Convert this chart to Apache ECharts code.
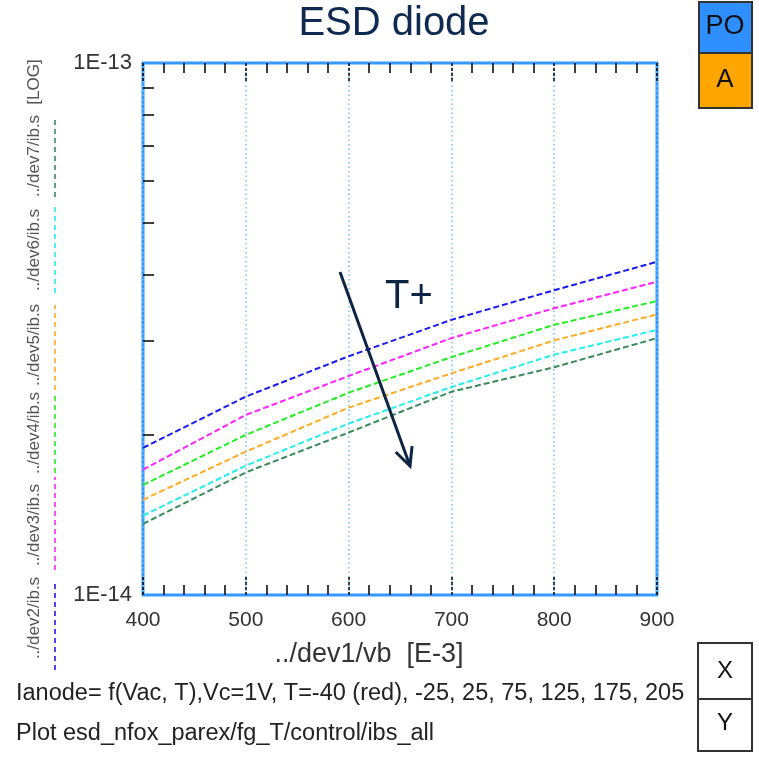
<!DOCTYPE html>
<html><head><meta charset="utf-8">
<script src="https://cdn.jsdelivr.net/npm/echarts@6/dist/echarts.min.js"></script>
<style>html,body{margin:0;padding:0;background:#fff}#c{width:759px;height:757px}</style>
</head><body><div id="c"></div>
<script>
const vb = [400, 500, 600, 700, 800, 900];
const dev2 = [1.89e-14, 2.36e-14, 2.81e-14, 3.29e-14, 3.74e-14, 4.23e-14];
const dev3 = [1.72e-14, 2.18e-14, 2.58e-14, 3.04e-14, 3.46e-14, 3.88e-14];
const dev4 = [1.61e-14, 2.00e-14, 2.40e-14, 2.80e-14, 3.22e-14, 3.57e-14];
const dev5 = [1.51e-14, 1.86e-14, 2.25e-14, 2.61e-14, 3.01e-14, 3.37e-14];
const dev6 = [1.41e-14, 1.75e-14, 2.10e-14, 2.46e-14, 2.83e-14, 3.15e-14];
const dev7 = [1.36e-14, 1.70e-14, 2.02e-14, 2.41e-14, 2.68e-14, 3.04e-14];
const seriesNames = ['../dev2/ib.s','../dev3/ib.s','../dev4/ib.s','../dev5/ib.s','../dev6/ib.s','../dev7/ib.s'];
const seriesData = [dev2, dev3, dev4, dev5, dev6, dev7];
const colors = ['#1a1aee','#ff22ff','#22ee22','#ffaa22','#22eeee','#3a8a5a'];
const yMinorTicks = [2e-14,3e-14,4e-14,5e-14,6e-14,7e-14,8e-14,9e-14];

const chart = echarts.init(document.getElementById('c'));
const navy = '#0e2444';
const FF = '"Liberation Sans", Arial, sans-serif';
const legendY = [[670,580],[570,477],[473,393],[390,305],[293,207],[197,118]];
const legendTextY = [618,525,433,345,250,156];
const graphics = [];
seriesNames.forEach((n,i)=>{
  graphics.push({type:'line', shape:{x1:55,y1:legendY[i][0],x2:55,y2:legendY[i][1]},
    style:{stroke:colors[i], lineWidth:1.6, lineDash:[5,4]}});
  graphics.push({type:'text', x:34, y:legendTextY[i], rotation:Math.PI/2,
    style:{text:n, fill:'#555', font:'17px ' + FF, align:'center', verticalAlign:'middle'}});
});
graphics.push({type:'text', x:34, y:82, rotation:Math.PI/2,
  style:{text:'[LOG]', fill:'#555', font:'17px ' + FF, align:'center', verticalAlign:'middle'}});
graphics.push({type:'text', x:394, y:24, style:{text:'ESD diode', fill:'#0e2a50', font:'40px ' + FF, align:'center', verticalAlign:'middle'}});
graphics.push({type:'text', x:369, y:655, style:{text:'../dev1/vb  [E-3]', fill:'#333', font:'27px ' + FF, align:'center', verticalAlign:'middle'}});
graphics.push({type:'text', x:16, y:694, style:{text:'Ianode= f(Vac, T),Vc=1V, T=-40 (red), -25, 25, 75, 125, 175, 205', fill:'#222', font:'23.5px ' + FF, align:'left', verticalAlign:'middle'}});
graphics.push({type:'text', x:16, y:734, style:{text:'Plot esd_nfox_parex/fg_T/control/ibs_all', fill:'#222', font:'23.5px ' + FF, align:'left', verticalAlign:'middle'}});
graphics.push({type:'rect', shape:{x:699,y:2,width:53,height:51}, style:{fill:'#2f8fff', stroke:'#333', lineWidth:2}});
graphics.push({type:'rect', shape:{x:699,y:53,width:53,height:55}, style:{fill:'#ffa500', stroke:'#333', lineWidth:2}});
graphics.push({type:'text', x:725, y:27, style:{text:'PO', fill:'#111', font:'27px ' + FF, align:'center', verticalAlign:'middle'}});
graphics.push({type:'text', x:725, y:80, style:{text:'A', fill:'#111', font:'26px ' + FF, align:'center', verticalAlign:'middle'}});
graphics.push({type:'rect', shape:{x:698,y:643,width:54,height:56}, style:{fill:'#fff', stroke:'#333', lineWidth:2}});
graphics.push({type:'rect', shape:{x:698,y:699,width:54,height:52}, style:{fill:'#fff', stroke:'#333', lineWidth:2}});
graphics.push({type:'text', x:725, y:671, style:{text:'X', fill:'#111', font:'24px ' + FF, align:'center', verticalAlign:'middle'}});
graphics.push({type:'text', x:725, y:723, style:{text:'Y', fill:'#111', font:'24px ' + FF, align:'center', verticalAlign:'middle'}});
const ax1=340, ay1=272, ax2=410, ay2=466;
const ang = Math.atan2(ay2-ay1, ax2-ax1);
const wl = 20, wa = 0.45;
graphics.push({type:'line', shape:{x1:ax1,y1:ay1,x2:ax2,y2:ay2}, style:{stroke:navy, lineWidth:3}, z:100});
graphics.push({type:'polyline', shape:{points:[[ax2-wl*Math.cos(ang-wa), ay2-wl*Math.sin(ang-wa)],[ax2,ay2],[ax2-wl*Math.cos(ang+wa), ay2-wl*Math.sin(ang+wa)]]}, style:{stroke:navy, lineWidth:3, fill:null}, z:100});
graphics.push({type:'text', x:385, y:297, style:{text:'T+', fill:navy, font:'40px ' + FF, align:'left', verticalAlign:'middle'}, z:100});

const xCommon = {
  type:'value', min:400, max:900, interval:100,
  axisLine:{show:false},
  axisTick:{show:true, inside:true, length:20, lineStyle:{color:'#000', type:[3,2], width:1.5}},
  minorTick:{show:true, splitNumber:5, length:10, lineStyle:{color:'#000', width:1.5}},
};
chart.setOption({
  animation:false,
  grid:{left:143, right:102, top:63, bottom:162, show:true, borderColor:'#3399ff', borderWidth:3, backgroundColor:'#fff'},
  xAxis:[
    Object.assign({}, xCommon, {position:'bottom',
      axisLabel:{show:true, color:'#333', fontSize:21, fontFamily:'Liberation Sans', margin:15},
      splitLine:{show:true, lineStyle:{color:'#70c0f8', type:[1.5,3], width:1.5}}}),
    Object.assign({}, xCommon, {position:'top', axisLabel:{show:false}, splitLine:{show:false}})
  ],
  yAxis:[{
    type:'log', logBase:10, min:1e-14, max:1e-13, position:'left',
    axisLine:{show:false},
    axisTick:{show:true, inside:true, length:11, customValues:yMinorTicks, lineStyle:{color:'#000', width:1.5}},
    axisLabel:{show:true, color:'#333', fontSize:22, fontFamily:'Liberation Sans', margin:11,
      formatter:v=>'1E' + Math.round(Math.log10(v))},
    splitLine:{show:false}
  }],
  series: seriesData.map((d,i)=>({
    type:'line', name:seriesNames[i], data:vb.map((x,j)=>[x,d[j]]),
    symbol:'none', lineStyle:{color:colors[i], width:2, type:[6,3]}, z:5
  })),
  graphic:graphics
});
</script></body></html>
